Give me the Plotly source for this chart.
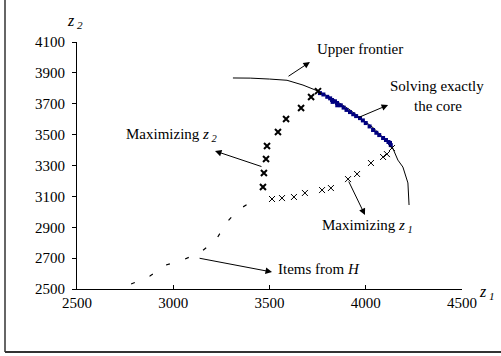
import plotly.graph_objects as go

# Upper frontier
frontier_x = [3310, 3400, 3500, 3591, 3674, 3752, 3825, 3918, 4038, 4136, 4167, 4193, 4219, 4225]
frontier_y = [3867, 3866, 3860, 3852, 3821, 3782, 3735, 3660, 3545, 3425, 3335, 3290, 3187, 3044]

# Solving exactly the core (blue points)
core_x = [3762, 3780, 3800, 3815, 3825, 3840, 3851, 3870, 3885, 3900, 3918, 3935, 3950,
          3970, 3985, 4000, 4020, 4038, 4055, 4070, 4090, 4105, 4118, 4126, 4130, 3828, 3852]
core_y = [3769, 3760, 3745, 3735, 3724, 3716, 3705, 3690, 3675, 3660, 3646, 3632, 3620,
          3607, 3592, 3575, 3553, 3530, 3512, 3497, 3478, 3465, 3452, 3446, 3432, 3712, 3690]

# Maximizing z2 path
maxz2_x = [3466, 3471, 3482, 3487, 3544, 3586, 3664, 3716, 3752]
maxz2_y = [3161, 3251, 3342, 3426, 3517, 3601, 3672, 3744, 3782]

# Maximizing z1 path
maxz1_x = [3513, 3565, 3627, 3684, 3773, 3819, 3908, 3955, 4027, 4090, 4110, 4136]
maxz1_y = [3083, 3089, 3096, 3122, 3141, 3154, 3212, 3245, 3316, 3355, 3374, 3413]

# Items from H
items_x = [2781, 2879, 2962, 3061, 3144, 3222, 3274, 3336, 3414]
items_y = [2532, 2584, 2655, 2694, 2740, 2817, 2927, 3012, 3070]

x_ticks = [2500, 3000, 3500, 4000, 4500]
y_ticks = [2500, 2700, 2900, 3100, 3300, 3500, 3700, 3900, 4100]

FONT = "Liberation Serif, Times New Roman, serif"

fig = go.Figure()
fig.add_trace(go.Scatter(x=items_x, y=items_y, mode="lines",
                         line=dict(color="black", width=1.2, dash="4px,16px")))
fig.add_trace(go.Scatter(x=frontier_x, y=frontier_y, mode="lines",
                         line=dict(color="black", width=1)))
fig.add_trace(go.Scatter(x=core_x, y=core_y, mode="markers",
                         marker=dict(symbol="square", size=4, color="#000080")))
fig.add_trace(go.Scatter(x=maxz2_x, y=maxz2_y, mode="markers",
                         marker=dict(symbol="x-thin", size=6,
                                     line=dict(color="black", width=2))))
fig.add_trace(go.Scatter(x=maxz1_x, y=maxz1_y, mode="markers",
                         marker=dict(symbol="x-thin", size=6,
                                     line=dict(color="black", width=1))))

def arrow(hx, hy, tx, ty):
    fig.add_annotation(x=hx, y=hy, ax=tx, ay=ty, xref="x", yref="y", axref="x", ayref="y",
                       text="", showarrow=True, arrowhead=2, arrowsize=1.3,
                       arrowwidth=1, arrowcolor="black")

arrow(3710, 3970, 3591, 3872)   # Upper frontier
arrow(4116, 3692, 3955, 3607)   # Solving exactly the core
arrow(3217, 3394, 3466, 3290)   # Maximizing z2
arrow(3996, 2979, 3908, 3206)   # Maximizing z1
arrow(3513, 2610, 3129, 2701)   # Items from H

def label(px, py, text, size=15):
    fig.add_annotation(x=(px - 77) / 385, y=(289 - py) / 247, xref="paper", yref="paper",
                       text=text, showarrow=False, font=dict(family=FONT, size=size, color="black"),
                       xanchor="center", yanchor="middle")

label(360, 49, "Upper frontier")
label(437, 86, "Solving exactly")
label(438, 106, "the core")
label(172, 135, "Maximizing <i>z</i><sub><i> 2</i></sub>")
label(367, 226, "Maximizing <i>z</i><sub><i> 1</i></sub>")
label(319, 269, "Items from <i>H</i>")
label(75, 22, "<i>z</i><sub><i> 2</i></sub>", 16)
label(487, 292, "<i>z</i><sub><i> 1</i></sub>", 16)

fig.update_layout(
    width=501, height=356,
    margin=dict(l=77, r=39, t=42, b=67),
    paper_bgcolor="white", plot_bgcolor="white",
    showlegend=False,
    font=dict(family=FONT, size=15, color="black"),
    xaxis=dict(range=[2500, 4500], tickvals=x_ticks, showgrid=False, zeroline=False,
               showline=True, linecolor="black", linewidth=1, ticks="inside", ticklen=4,
               tickcolor="black", tickfont=dict(family=FONT, size=15)),
    yaxis=dict(range=[2500, 4100], tickvals=y_ticks, showgrid=False, zeroline=False,
               showline=True, linecolor="black", linewidth=1, ticks="outside", ticklen=4,
               tickcolor="black", tickfont=dict(family=FONT, size=15), ticklabelstandoff=4),
    shapes=[
        dict(type="line", xref="paper", yref="paper", x0=(5 - 77) / 385, x1=(5 - 77) / 385,
             y0=(289 - 352) / 247, y1=(289 - 0) / 247, line=dict(color="#333", width=1.5)),
        dict(type="line", xref="paper", yref="paper", x0=(5 - 77) / 385, x1=(501 - 77) / 385,
             y0=(289 - 352) / 247, y1=(289 - 352) / 247, line=dict(color="#333", width=2)),
    ],
)

fig.write_html("out.html", config={"displayModeBar": False},
               post_script="document.body.style.margin='0px';document.body.style.overflow='hidden';")
